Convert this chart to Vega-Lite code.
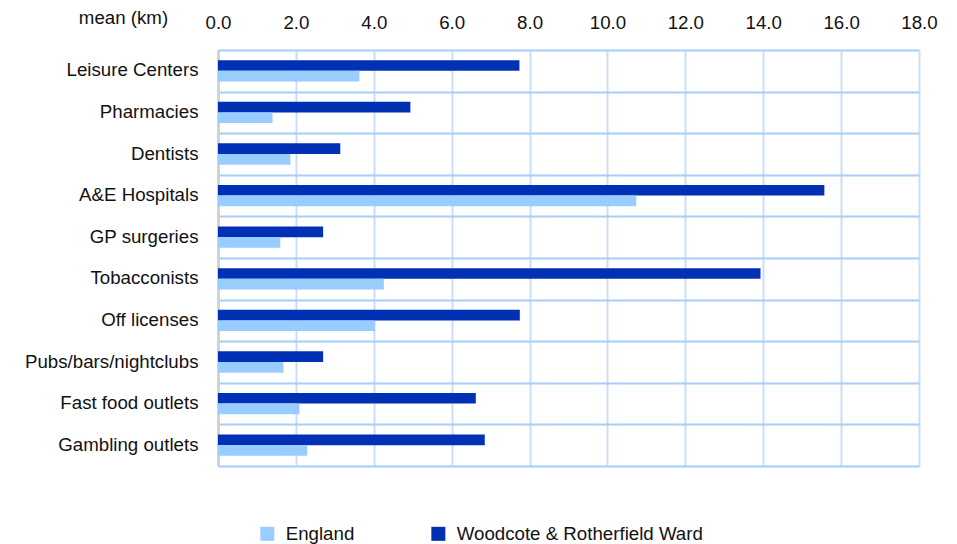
{
  "$schema": "https://vega.github.io/schema/vega-lite/v6.json",
  "autosize": {"type": "none"},
  "padding": {"left": 218, "top": 50, "right": 38, "bottom": 78},
  "width": 701,
  "height": 416,
  "background": "white",
  "config": {
    "view": {"stroke": null},
    "font": "Liberation Sans",
    "axis": {"labelFont": "Liberation Sans", "titleFont": "Liberation Sans", "labelColor": "#111", "titleColor": "#111"},
    "legend": {"labelFont": "Liberation Sans"}
  },
  "data": {
    "values": [
      {"facility": "Leisure Centers", "series": "Woodcote & Rotherfield Ward", "km": 7.74},
      {"facility": "Leisure Centers", "series": "England", "km": 3.63},
      {"facility": "Pharmacies", "series": "Woodcote & Rotherfield Ward", "km": 4.94},
      {"facility": "Pharmacies", "series": "England", "km": 1.40},
      {"facility": "Dentists", "series": "Woodcote & Rotherfield Ward", "km": 3.14},
      {"facility": "Dentists", "series": "England", "km": 1.86},
      {"facility": "A&E Hospitals", "series": "Woodcote & Rotherfield Ward", "km": 15.57},
      {"facility": "A&E Hospitals", "series": "England", "km": 10.74},
      {"facility": "GP surgeries", "series": "Woodcote & Rotherfield Ward", "km": 2.70},
      {"facility": "GP surgeries", "series": "England", "km": 1.60},
      {"facility": "Tobacconists", "series": "Woodcote & Rotherfield Ward", "km": 13.93},
      {"facility": "Tobacconists", "series": "England", "km": 4.26},
      {"facility": "Off licenses", "series": "Woodcote & Rotherfield Ward", "km": 7.75},
      {"facility": "Off licenses", "series": "England", "km": 4.03},
      {"facility": "Pubs/bars/nightclubs", "series": "Woodcote & Rotherfield Ward", "km": 2.70},
      {"facility": "Pubs/bars/nightclubs", "series": "England", "km": 1.68},
      {"facility": "Fast food outlets", "series": "Woodcote & Rotherfield Ward", "km": 6.62},
      {"facility": "Fast food outlets", "series": "England", "km": 2.09},
      {"facility": "Gambling outlets", "series": "Woodcote & Rotherfield Ward", "km": 6.85},
      {"facility": "Gambling outlets", "series": "England", "km": 2.29}
    ]
  },
  "mark": {"type": "bar", "cornerRadius": 0},
  "encoding": {
    "y": {
      "field": "facility",
      "type": "nominal",
      "sort": null,
      "scale": {"paddingInner": 0, "paddingOuter": 0},
      "axis": {
        "title": null,
        "labelFontSize": 18.7,
        "labelPadding": 20,
        "labelOffset": -1,
        "ticks": false,
        "grid": true,
        "tickBand": "extent",
        "gridColor": "#a6cef7",
        "gridWidth": 2,
        "domain": true,
        "domainColor": "#d3d3d3",
        "domainWidth": 3,
        "zindex": 0
      }
    },
    "yOffset": {
      "field": "series",
      "type": "nominal",
      "scale": {"domain": ["Woodcote & Rotherfield Ward", "England"], "paddingInner": 0, "paddingOuter": 0.95}
    },
    "x": {
      "field": "km",
      "type": "quantitative",
      "scale": {"domain": [0, 18], "nice": false},
      "axis": {
        "orient": "top",
        "values": [0, 2, 4, 6, 8, 10, 12, 14, 16, 18],
        "format": ".1f",
        "labelFontSize": 18.7,
        "labelPadding": 18,
        "labelFlush": false,
        "labelOverlap": false,
        "ticks": false,
        "domain": false,
        "grid": true,
        "gridColor": "#cadff5",
        "gridWidth": 2,
        "title": "mean (km)",
        "titleFontSize": 18.7,
        "titleFontWeight": "normal",
        "titleX": -95,
        "titleY": -27,
        "titleAlign": "center",
        "titleBaseline": "alphabetic",
        "zindex": 0
      }
    },
    "color": {
      "field": "series",
      "type": "nominal",
      "scale": {"domain": ["England", "Woodcote & Rotherfield Ward"], "range": ["#99ccff", "#0030b4"]},
      "legend": {
        "title": null,
        "orient": "none",
        "direction": "horizontal",
        "legendX": 40,
        "legendY": 474,
        "padding": 0,
        "symbolType": "square",
        "symbolSize": 196,
        "symbolStrokeWidth": 0,
        "symbolOpacity": 1,
        "labelFontSize": 18.7,
        "labelColor": "#111",
        "labelOffset": 9,
        "columnPadding": 74,
        "labelLimit": 400
      }
    }
  }
}
